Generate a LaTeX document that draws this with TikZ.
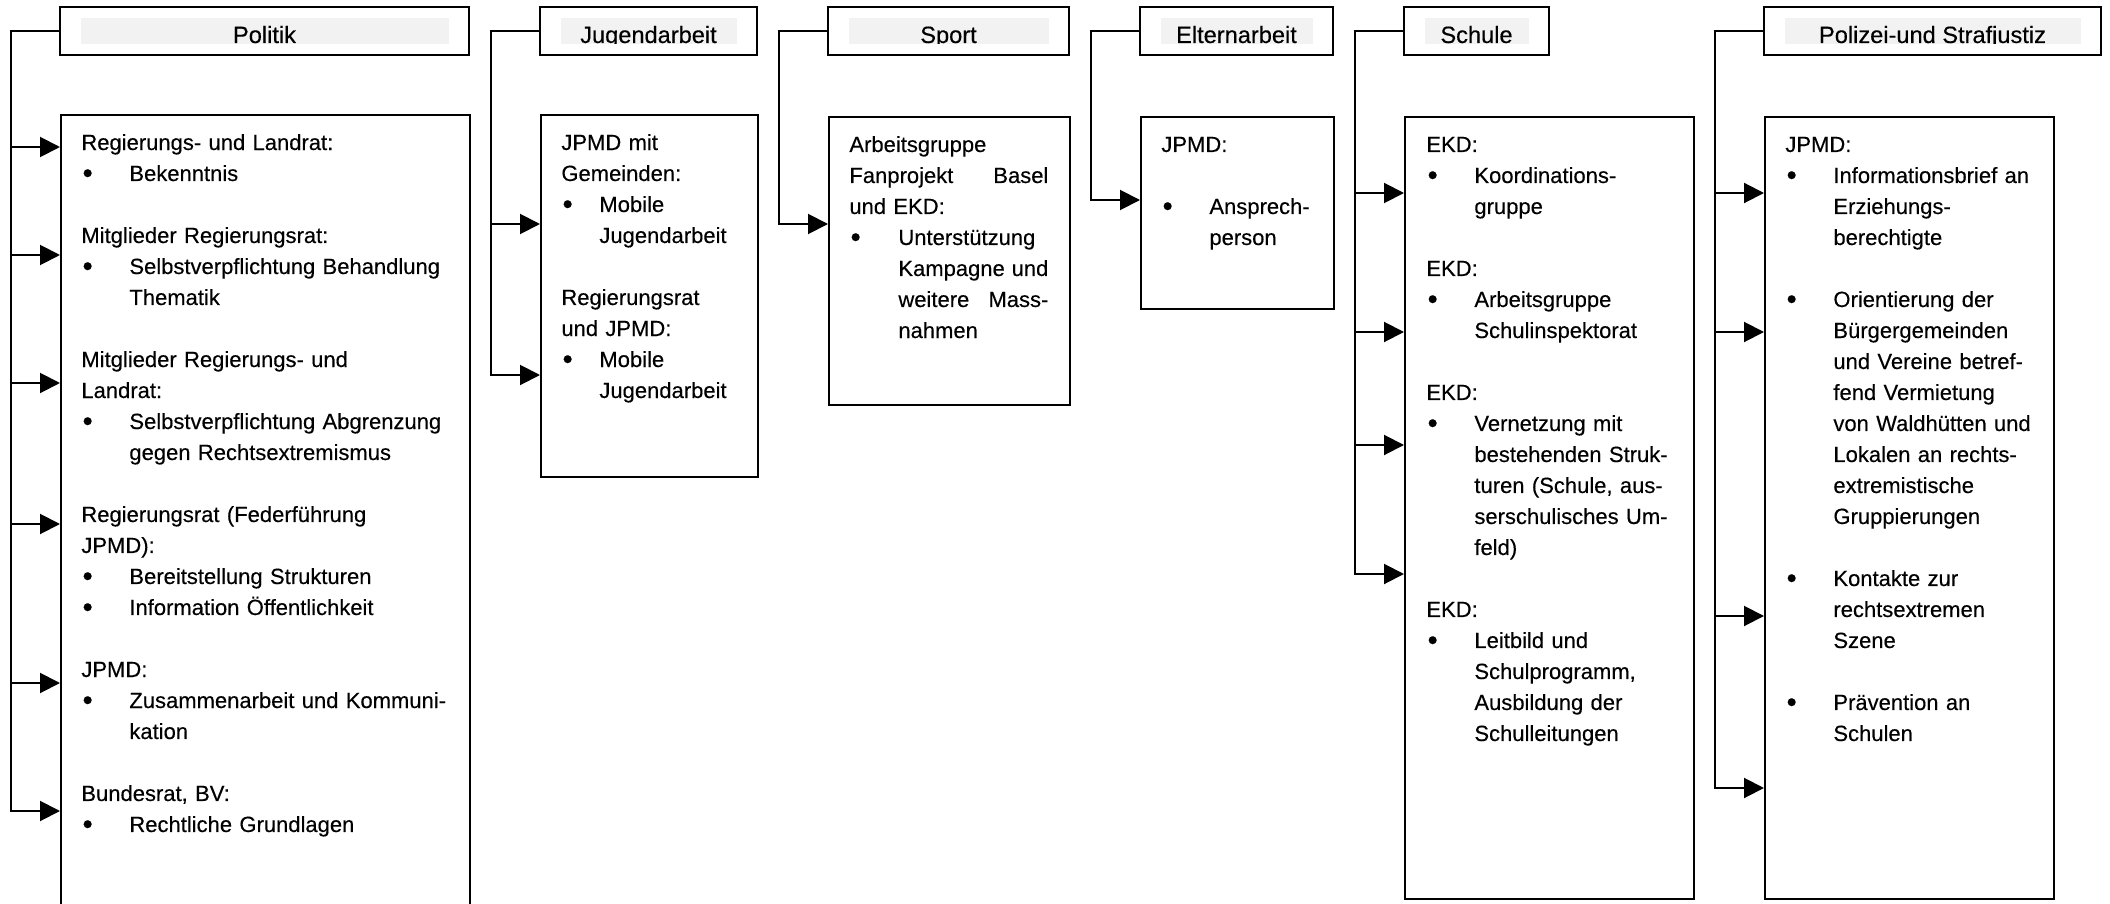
\documentclass[tikz,border=0pt]{standalone}
\usepackage{fontspec}
\setmainfont{Liberation Sans}[UprightFeatures={FakeBold=0.3}]
\usepackage{tikz}
\usetikzlibrary{arrows.meta,positioning}
\definecolor{bargray}{RGB}{242,242,242}
\newlength{\bulind}
\newcommand{\bulsym}{\raisebox{-0.9pt}{\fontsize{14.5}{14.5}\selectfont\textbullet}}
\newcommand{\bul}[1]{\par\hangindent=\bulind\hangafter=1\noindent\hbox to\bulind{\hspace{0.6pt}\bulsym\hss}#1\par}
\newcommand{\grpgap}{\par\vspace{15.5pt}}

\begin{document}
\begin{tikzpicture}[x=0.5pt, y=-0.5pt, >={Triangle[length=10pt,width=10pt]},
	head/.style={draw, line width=1.1pt, inner sep=0pt, minimum height=24pt},
	bar/.style={fill=bargray, inner sep=0pt, minimum height=13pt},
	cbox/.style={draw, line width=1.1pt, inner sep=0pt, anchor=north west},
	txt/.style={inner sep=0pt, anchor=base west, font=\fontsize{11}{15.5}\selectfont,
		execute at begin node={\setlength{\bulind}{#1}}},
	txt/.default=24pt,
	conn/.style={line width=1pt, ->}]
	\useasboundingbox (0,0) rectangle (2110,904);
	\clip (0,0) rectangle (2110,904);
	%Kopfzeilen
	\foreach \n/\l/\r/\t in {pol/60/469/Politik, jug/540/757/Jugendarbeit, spo/828/1069/Sport,
		elt/1140/1333/Elternarbeit, sch/1404/1549/Schule, pzj/1764/2101/{Polizei-und Strafjustiz}}{
		\node[head, minimum width={(\r-\l)*0.5pt}] (\n-head) at ({(\l+\r)/2},31) {};
		\node[bar, minimum width={(\r-\l-41)*0.5pt}, path picture={
			\node[anchor=base, inner sep=0pt, font=\fontsize{11.8}{14}\selectfont] (\n-title)
				at ([yshift=0.5pt]path picture bounding box.south) {\t};}] (\n-bar) at ({(\l+\r)/2},31) {};
	}
	%Kaesten
	\node[cbox, minimum width=204.5pt, minimum height=410pt] (pol-box) at (60,114) {};
	\node[cbox, minimum width=108.5pt, minimum height=181pt] (jug-box) at (540,114) {};
	\node[cbox, minimum width=120.5pt, minimum height=144pt] (spo-box) at (828,116) {};
	\node[cbox, minimum width=96.5pt, minimum height=96pt] (elt-box) at (1140,116) {};
	\node[cbox, minimum width=144.5pt, minimum height=391pt] (sch-box) at (1404,116) {};
	\node[cbox, minimum width=144.5pt, minimum height=391pt] (pzj-box) at (1764,116) {};
	%Texte
	\node[txt, text width=190pt] (pol-text) at (81,150) {%
		Regierungs- und Landrat:
		\bul{Bekenntnis}
		\grpgap
		Mitglieder Regierungsrat:
		\bul{Selbstverpflichtung Behandlung\newline Thematik}
		\grpgap
		Mitglieder Regierungs- und\newline Landrat:
		\bul{Selbstverpflichtung Abgrenzung\newline gegen Rechtsextremismus}
		\grpgap
		Regierungsrat (Federführung\newline JPMD):
		\bul{Bereitstellung Strukturen}
		\bul{Information Öffentlichkeit}
		\grpgap
		JPMD:
		\bul{Zusammenarbeit und Kommuni-\newline kation}
		\grpgap
		Bundesrat, BV:
		\bul{Rechtliche Grundlagen}};
	\node[txt=19pt, text width=92pt] (jug-text) at (561,150) {%
		JPMD mit\newline Gemeinden:
		\bul{Mobile\newline Jugendarbeit}
		\grpgap
		Regierungsrat\newline und JPMD:
		\bul{Mobile\newline Jugendarbeit}};
	\node[txt=24.5pt, text width=99.5pt] (spo-text) at (849,152) {%
		Arbeitsgruppe\newline Fanprojekt\hfill Basel\newline und EKD:
		\bul{Unterstützung\newline Kampagne\hfill und\newline weitere\hfill Mass-\newline nahmen}};
	\node[txt, text width=80pt] (elt-text) at (1161,152) {%
		JPMD:
		\grpgap
		\bul{Ansprech-\newline person}};
	\node[txt, text width=128pt] (sch-text) at (1426,152) {%
		EKD:
		\bul{Koordinations-\newline gruppe}
		\grpgap
		EKD:
		\bul{Arbeitsgruppe\newline Schulinspektorat}
		\grpgap
		EKD:
		\bul{Vernetzung mit\newline bestehenden Struk-\newline turen (Schule, aus-\newline serschulisches Um-\newline feld)}
		\grpgap
		EKD:
		\bul{Leitbild und\newline Schulprogramm,\newline Ausbildung der\newline Schulleitungen}};
	\node[txt, text width=128pt] (pzj-text) at (1785,152) {%
		JPMD:
		\bul{Informationsbrief an\newline Erziehungs-\newline berechtigte}
		\grpgap
		\bul{Orientierung der\newline Bürgergemeinden\newline und Vereine betref-\newline fend Vermietung\newline von Waldhütten und\newline Lokalen an rechts-\newline extremistische\newline Gruppierungen}
		\grpgap
		\bul{Kontakte zur\newline rechtsextremen\newline Szene}
		\grpgap
		\bul{Prävention an\newline Schulen}};
	%Klammern mit Pfeilen
	\foreach \n in {pol,jug,spo,elt,sch,pzj}
		\coordinate (\n-br) at ([xshift=-24pt]\n-head.west);
	\draw[conn] (pol-head.west) -- (pol-br) |- (pol-box.west |- 0,811);
	\foreach \y in {147,255,383,524,683}
		\draw[conn] (pol-br |- 0,\y) -- (pol-box.west |- 0,\y);
	\draw[conn] (jug-head.west) -- (jug-br) |- (jug-box.west |- 0,375);
	\draw[conn] (jug-br |- 0,224) -- (jug-box.west |- 0,224);
	\draw[conn] (spo-head.west) -- (spo-br) |- (spo-box.west |- 0,224);
	\draw[conn] (elt-head.west) -- (elt-br) |- (elt-box.west |- 0,200);
	\draw[conn] (sch-head.west) -- (sch-br) |- (sch-box.west |- 0,574);
	\foreach \y in {193,332,445}
		\draw[conn] (sch-br |- 0,\y) -- (sch-box.west |- 0,\y);
	\draw[conn] (pzj-head.west) -- (pzj-br) |- (pzj-box.west |- 0,788);
	\foreach \y in {193,332,616}
		\draw[conn] (pzj-br |- 0,\y) -- (pzj-box.west |- 0,\y);
\end{tikzpicture}
\end{document}
